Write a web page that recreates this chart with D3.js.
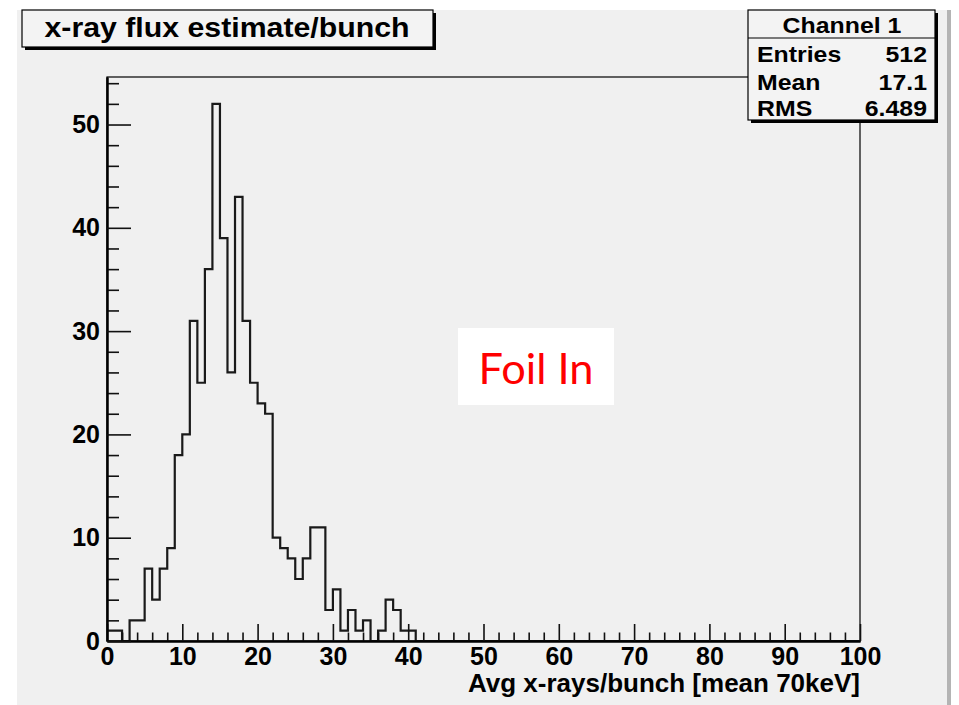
<!DOCTYPE html>
<html>
<head>
<meta charset="utf-8">
<script src="https://cdn.jsdelivr.net/npm/d3@7"></script>
<style>
  body { margin: 0; background: #fff; }
  svg { display: block; }
  .lbl { font-family: "Liberation Sans", Arial, sans-serif; font-weight: bold; fill: #000; }
</style>
</head>
<body>
<div id="chart"></div>
<script>
// histogram "x-ray flux estimate/bunch", 100 bins from 0 to 100
var binLow = 0, binHigh = 100;
var counts = [
  1, 1, 0, 2, 2, 7, 4, 7, 9, 18,
  20, 31, 25, 36, 52, 39, 26, 43, 31, 25,
  23, 22, 10, 9, 8, 6, 8, 11, 11, 3,
  5, 1, 3, 1, 2, 0, 1, 4, 3, 1,
  1, 0, 0, 0, 0, 0, 0, 0, 0, 0,
  0, 0, 0, 0, 0, 0, 0, 0, 0, 0,
  0, 0, 0, 0, 0, 0, 0, 0, 0, 0,
  0, 0, 0, 0, 0, 0, 0, 0, 0, 0,
  0, 0, 0, 0, 0, 0, 0, 0, 0, 0,
  0, 0, 0, 0, 0, 0, 0, 0, 0, 0
];
var xMajor = [0, 10, 20, 30, 40, 50, 60, 70, 80, 90, 100];
var yMajor = [0, 10, 20, 30, 40, 50];
var statNames = ["Entries", "Mean", "RMS"];
var statValues = ["512", "17.1", "6.489"];
var title = "x-ray flux estimate/bunch";
var statTitle = "Channel 1";
var xTitle = "Avg x-rays/bunch [mean 70keV]";
var note = "Foil In";

var W = 959, H = 705;
var svg = d3.select('#chart').append('svg').attr('width', W).attr('height', H);

// canvas background
svg.append('rect').attr('x', 17).attr('y', 10).attr('width', 930).attr('height', H - 10).style('fill', '#f0f0f0');
svg.append('rect').attr('x', 947).attr('y', 10).attr('width', 4).attr('height', H - 10).style('fill', '#b4b4b4');

var x = d3.scaleLinear().domain([binLow, binHigh]).range([107, 860]);
var y = d3.scaleLinear().domain([0, 54.6]).range([641, 77]);

// frame
svg.append('rect').attr('x', 107).attr('y', 77).attr('width', 753).attr('height', 564)
   .style('fill', 'none').style('stroke', '#000').style('stroke-width', 1.2);

// histogram outline
var pts = counts.map(function(c, i) { return [binLow + i, c]; });
pts.push([binHigh, counts[counts.length - 1]]);
var line = d3.line().x(function(d) { return x(d[0]); }).y(function(d) { return y(d[1]); }).curve(d3.curveStepAfter);
svg.append('path').attr('d', line(pts))
   .style('fill', 'none').style('stroke', '#1a1a1a').style('stroke-width', 2.2);

// minor ticks
var xMinor = d3.range(0, 101, 2).filter(function(v) { return v % 10 !== 0; });
var yMinor = d3.range(0, 55, 2).filter(function(v) { return v % 10 !== 0; });
svg.append('g').attr('transform', 'translate(0,641)')
   .call(d3.axisBottom(x).tickValues(xMinor).tickSizeInner(-8.5).tickSizeOuter(0).tickFormat(''));
svg.append('g').attr('transform', 'translate(107,0)')
   .call(d3.axisLeft(y).tickValues(yMinor).tickSizeInner(-12).tickSizeOuter(0).tickFormat(''));

// major ticks + labels
svg.append('g').attr('transform', 'translate(0,641)')
   .call(d3.axisBottom(x).tickValues(xMajor).tickSizeInner(-17).tickSizeOuter(0).tickPadding(6));
svg.append('g').attr('transform', 'translate(107,0)')
   .call(d3.axisLeft(y).tickValues(yMajor).tickSizeInner(-24).tickSizeOuter(0).tickPadding(7));

svg.selectAll('.tick line').style('stroke', '#111').style('stroke-width', 1.6);
svg.selectAll('.domain').style('stroke', '#000').style('stroke-width', 2);
svg.selectAll('.tick text').attr('class', 'lbl').style('font-size', '25px');

// axis title
svg.append('text').attr('class', 'lbl').attr('x', 860).attr('y', 692)
   .attr('text-anchor', 'end').style('font-size', '26px').text(xTitle);

// title box
svg.append('rect').attr('x', 25).attr('y', 13).attr('width', 411).attr('height', 37).style('fill', '#000');
svg.append('rect').attr('x', 22).attr('y', 10).attr('width', 411).attr('height', 37)
   .style('fill', '#f3f3f3').style('stroke', '#000').style('stroke-width', 1.2);
svg.append('text').attr('class', 'lbl').attr('x', 227).attr('y', 37)
   .attr('text-anchor', 'middle').style('font-size', '28px')
   .attr('textLength', 365).attr('lengthAdjust', 'spacingAndGlyphs').text(title);

// stats box (text is a bit wider than the font, so stretch it horizontally)
function boxText(tx, ty, str, anchor) {
  svg.append('text').attr('class', 'lbl')
     .attr('transform', 'translate(' + tx + ',' + ty + ') scale(1.13,1)')
     .attr('text-anchor', anchor).style('font-size', '22px').text(str);
}
svg.append('rect').attr('x', 751).attr('y', 13).attr('width', 187).attr('height', 110).style('fill', '#000');
svg.append('rect').attr('x', 748).attr('y', 10).attr('width', 187).attr('height', 110)
   .style('fill', '#f3f3f3').style('stroke', '#000').style('stroke-width', 1.2);
svg.append('line').attr('x1', 748).attr('x2', 935).attr('y1', 38).attr('y2', 38)
   .style('stroke', '#000').style('stroke-width', 1.2);
boxText(842, 33, statTitle, 'middle');
var rowY = [62, 90, 116];
statNames.forEach(function(n, i) {
  boxText(757, rowY[i], n, 'start');
  boxText(927, rowY[i], statValues[i], 'end');
});

// annotation
svg.append('rect').attr('x', 458).attr('y', 328).attr('width', 156).attr('height', 77).style('fill', '#fff');
svg.append('text').attr('x', 536).attr('y', 384).attr('text-anchor', 'middle')
   .style('font-family', 'Lato, "Open Sans", sans-serif').style('font-size', '42px')
   .attr('textLength', 115).attr('lengthAdjust', 'spacingAndGlyphs')
   .style('fill', '#ff0000').text(note);
</script>
</body>
</html>
